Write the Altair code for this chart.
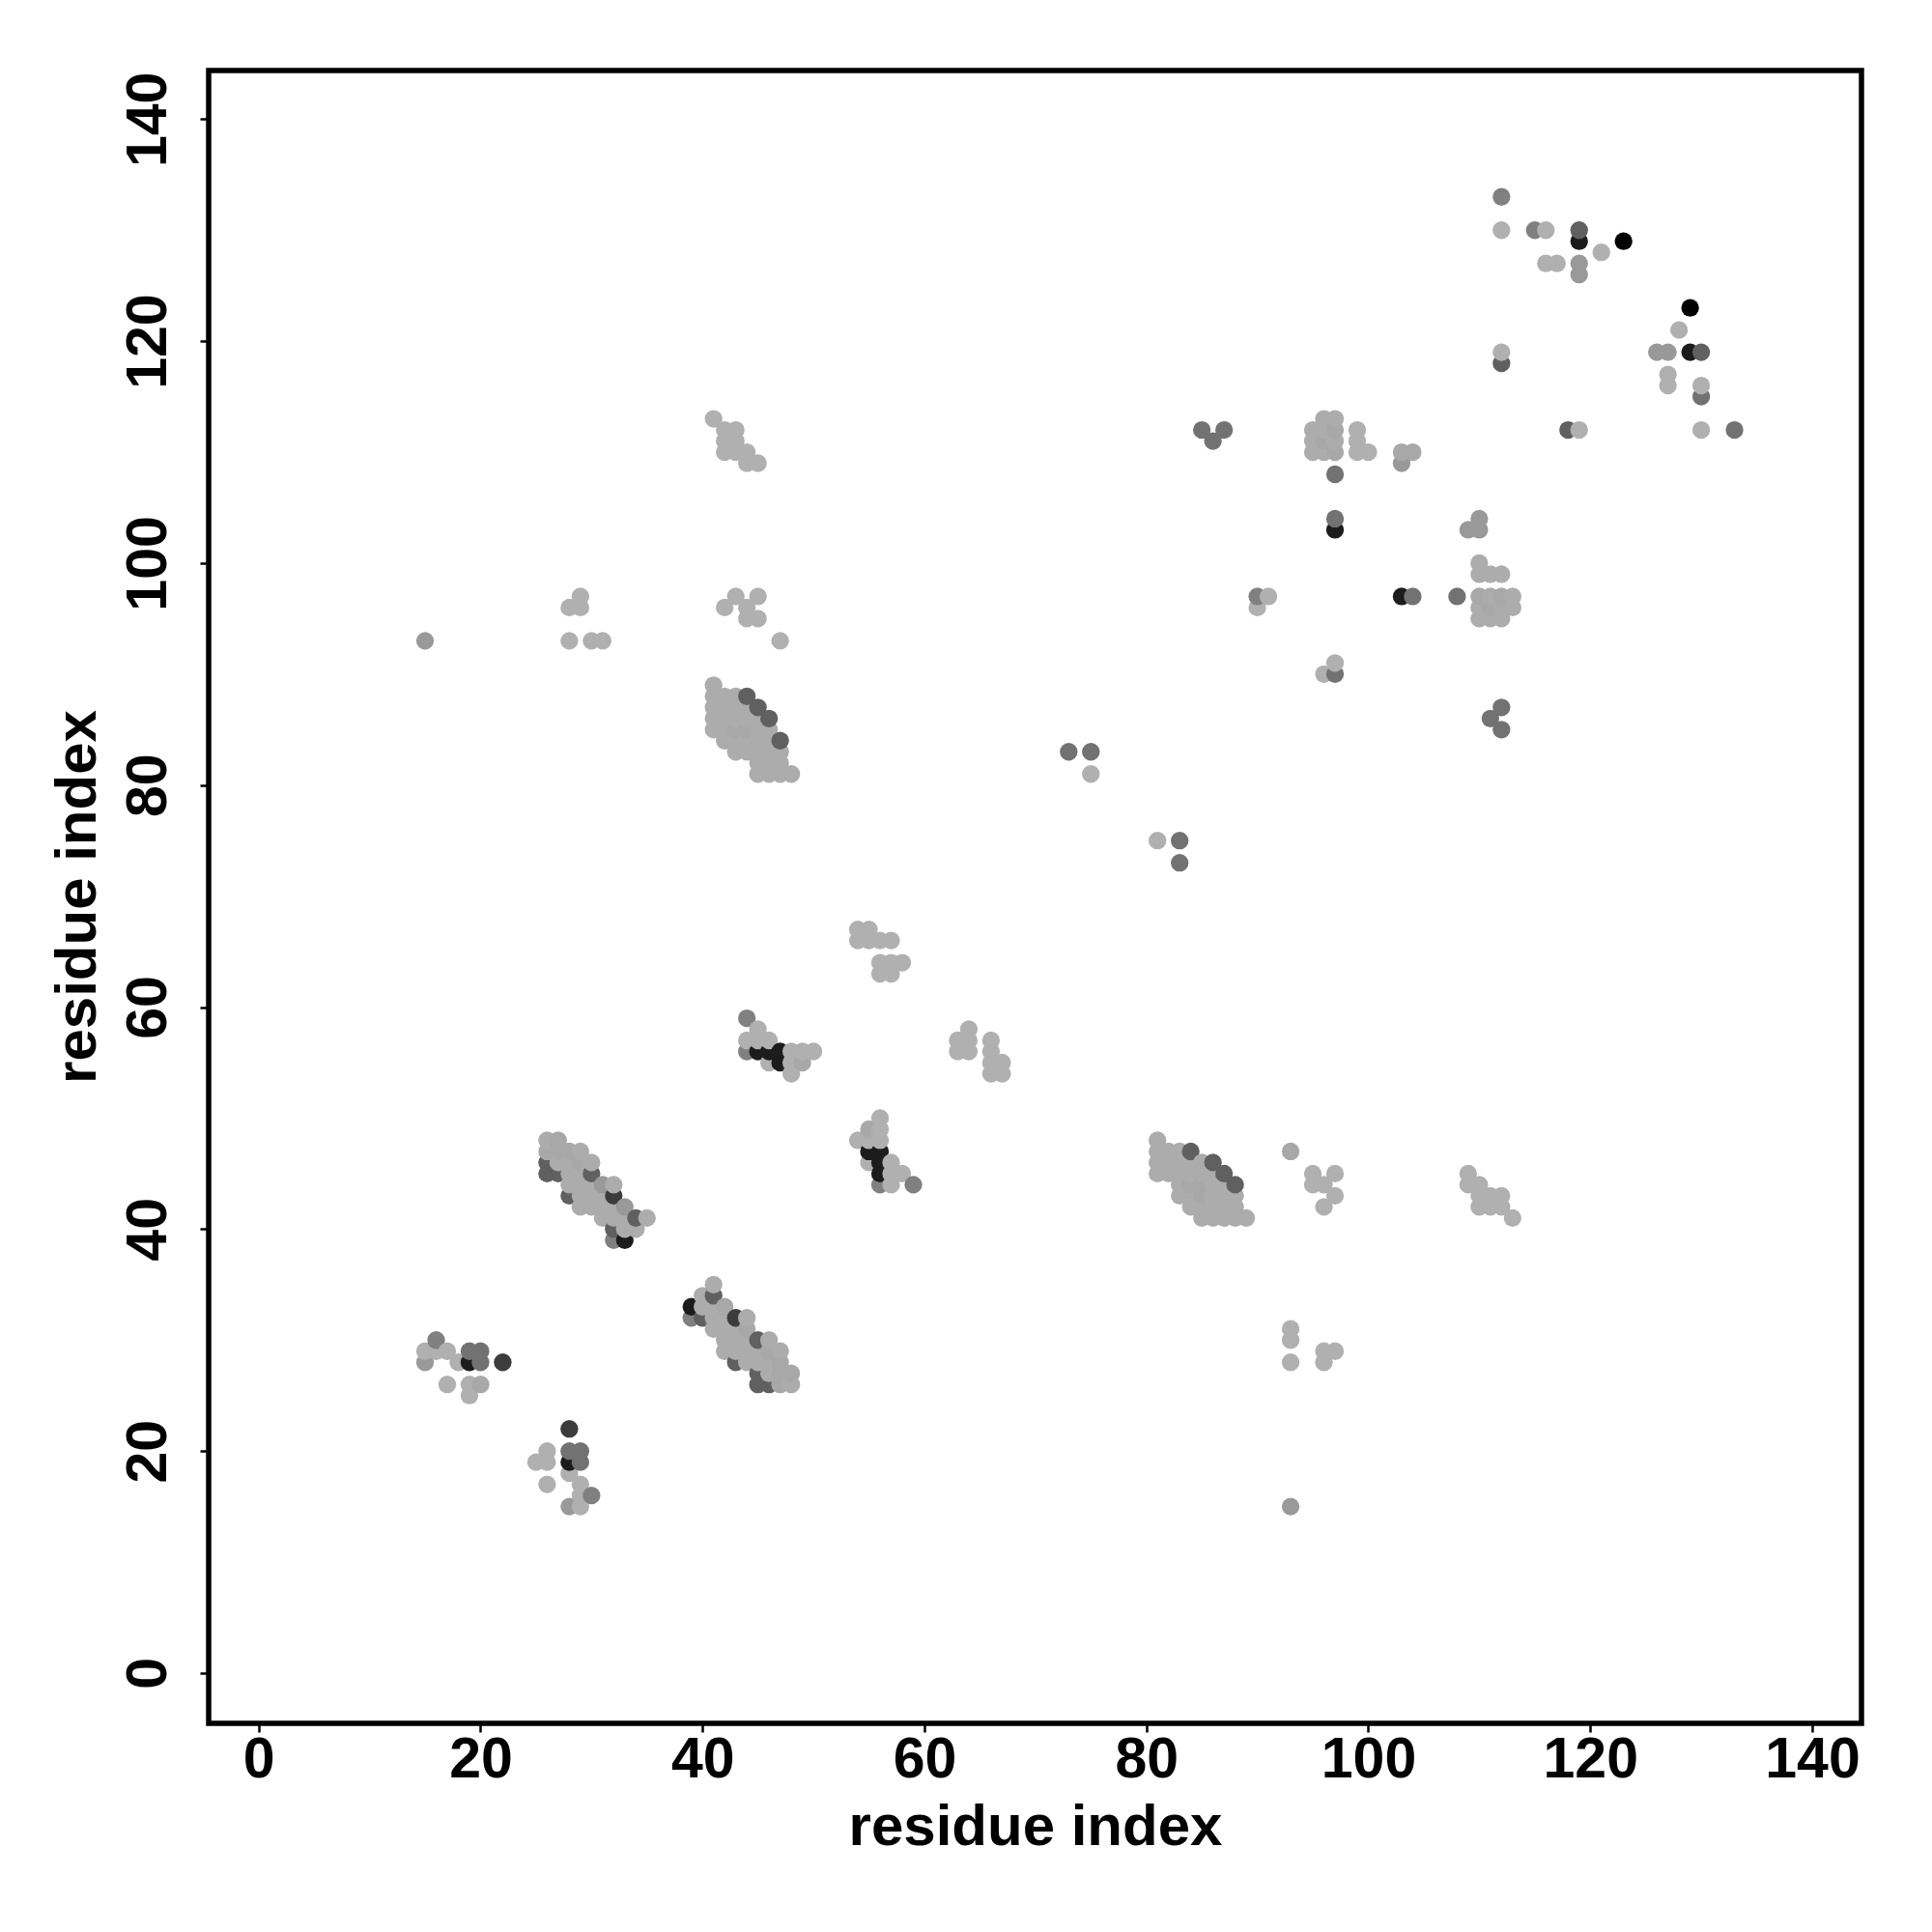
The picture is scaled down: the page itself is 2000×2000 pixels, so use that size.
import altair as alt
import pandas as pd

tick_values = [0, 20, 40, 60, 80, 100, 120, 140]
axis_title = "residue index"

shade_black = [(123,129),(129,123)]
shade_1c = [(19,28),(28,19),(45,56),(46,56),(47,56),(47,55),(55,47),(56,47),(56,46),(56,45),
            (33,39),(39,33),(119,129),(129,119),(97,103),(103,97)]
shade_3c = [(22,28),(28,22),(32,43),(43,32)]
shade_60 = [(44,88),(45,87),(46,86),(47,84),(84,47),(86,46),(87,45),(88,44),(26,46),(26,45),(27,45),
            (30,45),(28,43),(34,41),(32,40),(41,34),(40,32),(43,28),(45,27),(45,26),(46,26),(45,30),
            (119,130),(130,119),(112,118),(118,112)]
shade_70 = [(19,29),(20,29),(20,28),(28,20),(29,20),(29,19),(73,83),(75,83),(83,75),(83,73),(85,112),
            (87,112),(86,111),(97,108),(97,104),(104,97),(108,97),(111,86),(112,87),(112,85),(130,115),
            (133,112),(97,90)]
shade_80 = [(16,30),(30,16),(44,59),(44,56),(56,44),(59,44),(90,97),(112,133),(115,130),(32,39),(39,32)]
shade_99 = [(15,28),(15,93),(28,15),(93,15),(119,127),(119,126),(126,119),(127,119),(103,109),(109,103),
            (110,103),(110,104),(33,42),(31,44)]
shade_a8 = [(27,48),(26,47),(27,47),(28,47),(29,46),(42,33),(44,31),(46,29),(47,28),(47,27),(48,27),
            (47,26),(49,55),(55,49),(20,26),(93,47),(103,110),(104,110),(97,112),(96,111),(97,110),
            (112,97),(110,97),(111,96),(43,85),(44,85),(84,44),(85,43),(85,44)]
shade_b0 = [
    (15,29),(16,29),(17,29),(18,28),(17,26),(19,26),(19,25),
    (26,20),(25,19),(26,19),(28,18),(29,17),(26,17),(29,16),(29,15),
    (45,58),(44,57),(45,57),(46,57),(48,56),(49,56),(50,56),(46,55),(48,55),(48,54),
    (56,50),(56,49),(54,48),(55,48),(56,48),(55,46),(57,46),(57,45),(58,45),(57,44),
    (54,67),(55,67),(54,66),(55,66),(56,66),(57,66),(56,64),(57,64),(58,64),(56,63),(57,63),
    (63,57),(63,56),(64,58),(64,57),(64,56),(66,57),(66,56),(66,55),(66,54),(67,55),(67,54),
    (75,81),(81,75),(91,97),(90,96),
    (95,45),(97,45),(95,44),(96,44),(97,43),(96,42),
    (93,31),(93,30),(93,28),(96,29),(97,29),(96,28),
    (28,96),(29,97),(29,96),(28,93),(30,93),(31,93),
    (41,113),(42,112),(43,112),(42,111),(43,111),(42,110),(43,110),(44,110),(44,109),(45,109),
    (43,97),(45,97),(42,96),(44,96),(44,95),(45,95),(47,93),
    (99,112),(99,111),(99,110),(100,110),
    (96,90),(97,91),
    (112,130),(116,130),(121,128),(116,127),(117,127),(128,121),(112,119),(127,117),(127,116),
    (130,116),(119,112),(130,112),
    (109,45),(109,44),(110,44),(110,43),(111,43),(112,43),(110,42),(111,42),(112,42),(113,41),
]
# points inside the dense clusters read slightly darker than the isolated light ones
shade_ac = [
    (96,113),(97,113),(95,112),(96,112),(95,111),(97,111),(95,110),(96,110),
    (110,100),(110,99),(111,99),(112,99),(111,97),(113,97),(110,96),(112,96),(113,96),
    (110,95),(111,95),(112,95),
    (41,89),(41,88),(41,87),(41,86),(41,85),(42,88),(42,87),(42,86),(42,85),(42,84),
    (43,88),(43,87),(43,86),(43,84),(43,83),(44,87),(44,86),(44,84),(44,83),
    (45,86),(45,85),(45,84),(45,83),(45,82),(45,81),(46,85),(46,84),(46,83),(46,82),(46,81),
    (47,83),(47,82),(47,81),(48,81),
    (81,48),(81,47),(81,46),(81,45),(82,47),(82,46),(82,45),(83,47),(83,46),(83,45),(83,44),(83,43),
    (84,46),(84,45),(84,43),(84,42),(85,46),(85,45),(85,42),(85,41),
    (86,45),(86,44),(86,43),(86,42),(86,41),(87,44),(87,43),(87,42),(87,41),(88,43),(88,42),(88,41),(89,41),
    (26,48),(27,46),(28,46),(29,47),(30,46),(28,45),(29,45),(28,44),(29,44),(30,44),(32,44),
    (29,43),(30,43),(31,43),(29,42),(30,42),(31,42),(32,42),(31,41),(32,41),(33,41),(35,41),(33,40),(34,40),
    (41,35),(40,34),(40,33),(41,33),(41,32),(42,32),(44,32),(41,31),(42,31),(43,31),
    (42,30),(43,30),(44,30),(46,30),(42,29),(43,29),(44,29),(45,29),(47,29),
    (44,28),(45,28),(46,28),(46,27),(48,26),
]

shades = {
    "#000000": shade_black, "#1c1c1c": shade_1c, "#3c3c3c": shade_3c, "#606060": shade_60,
    "#727272": shade_70, "#808080": shade_80, "#999999": shade_99, "#a8a8a8": shade_a8,
    "#acacac": shade_ac, "#b0b0b0": shade_b0,
}
rows = [{"x": p[0], "y": p[1], "shade": c} for c, pts in shades.items() for p in pts]
df = pd.DataFrame(rows).sort_values(["x", "y"]).reset_index(drop=True)

FONT = "Liberation Sans"
DOMAIN_X = [-4.5, 144.44]
DOMAIN_Y = [-4.53, 144.38]
W = H = 1711

common = dict(
    values=tick_values, title=axis_title, grid=False, domain=False, format="d",
    tickColor="black", tickWidth=2.5, tickSize=9,
    labelFont=FONT, labelFontWeight="bold", labelFontSize=59, labelColor="black",
    titleFont=FONT, titleFontWeight="bold", titleFontSize=60, titleColor="black",
    titleBaseline="alphabetic", titleAlign="center", labelBaseline="alphabetic",
    labelAlign="center", labelFlush=False, labelOverlap=False,
)

chart = (
    alt.Chart(df)
    .mark_point(filled=True, size=335, opacity=1, strokeWidth=0)
    .encode(
        x=alt.X("x:Q", scale=alt.Scale(domain=DOMAIN_X, nice=False, zero=False),
                axis=alt.Axis(labelPadding=46, titleX=855.5, titleY=125, titleAngle=0, **common)),
        y=alt.Y("y:Q", scale=alt.Scale(domain=DOMAIN_Y, nice=False, zero=False),
                axis=alt.Axis(labelPadding=36, labelAngle=270, titleX=-118, titleY=855, titleAngle=270, **common)),
        color=alt.Color("shade:N", scale=None),
    )
    .properties(
        width=W, height=H, background="white",
        autosize=alt.AutoSizeParams(type="none"),
        padding={"left": 208, "top": 65, "right": 60, "bottom": 205},
    )
    .configure_view(stroke="black", strokeWidth=5.5, fill="white")
)

chart.save("out.html", embed_options={"renderer": "svg", "actions": False})
